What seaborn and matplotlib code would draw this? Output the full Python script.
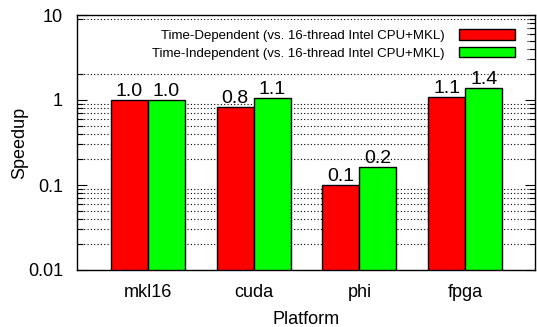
import matplotlib
matplotlib.use("Agg")
import numpy as np
import pandas as pd
import seaborn as sns
import matplotlib.pyplot as plt
from matplotlib.patches import Rectangle
from matplotlib.ticker import LogLocator, NullFormatter, FixedLocator, FixedFormatter

platforms = ["mkl16", "cuda", "phi", "fpga"]
series_names = ["Time-Dependent (vs. 16-thread Intel CPU+MKL)",
                "Time-Independent (vs. 16-thread Intel CPU+MKL)"]
time_dependent = [1.0, 0.82, 0.101, 1.08]
time_independent = [1.0, 1.06, 0.163, 1.39]
ytick_values = [0.01, 0.1, 1, 10]
ytick_labels = ["0.01", "0.1", "1", "10"]
colors = ["#ff0000", "#00ff00"]

df = pd.DataFrame({
    "Platform": platforms * 2,
    "Speedup": time_dependent + time_independent,
    "Series": [series_names[0]] * len(platforms) + [series_names[1]] * len(platforms),
})

sns.set_theme(style="white")
plt.rcParams["font.family"] = ["Liberation Sans", "DejaVu Sans"]
plt.rcParams.update({"text.color": "black", "axes.labelcolor": "black",
                     "xtick.color": "black", "ytick.color": "black"})

fig = plt.figure(figsize=(5.37, 3.27), dpi=100)
ax = fig.add_axes([77/537, 57/327, 458/537, 255/327])

sns.barplot(data=df, x="Platform", y="Speedup", hue="Series", order=platforms,
            hue_order=series_names, palette=colors, width=0.7, gap=0,
            edgecolor="black", linewidth=1.0, saturation=1, ax=ax, legend=True,
            log_scale=(False, True))

ax.set_yscale("log")
ax.set_ylim(0.01, 10)
ax.set_xlim(-0.67, 3.66)

for cont in ax.containers:
    ax.bar_label(cont, fmt="%.1f", padding=0, fontsize=14, color="black")

ax.yaxis.set_major_locator(FixedLocator(ytick_values))
ax.yaxis.set_major_formatter(FixedFormatter(ytick_labels))
ax.yaxis.set_minor_locator(LogLocator(base=10, subs=np.arange(2, 10)))
ax.yaxis.set_minor_formatter(NullFormatter())
ax.tick_params(axis="y", which="major", direction="in", length=7, width=0.8,
               left=True, right=True, labelsize=13, pad=10, color="black",
               labelcolor="black")
ax.tick_params(axis="y", which="minor", direction="in", length=4, width=0.8,
               left=True, right=True, color="black")
ax.tick_params(axis="x", which="both", length=0, labelsize=13, pad=10,
               labelcolor="black")

ax.set_axisbelow(True)
ax.grid(True, which="minor", axis="y", linestyle=(0, (1, 2)), color="black", linewidth=0.8)
ax.grid(False, which="major")

for s in ax.spines.values():
    s.set_visible(True)
    s.set_color("black")
    s.set_linewidth(1.0)

ax.set_xlabel("Platform", fontsize=13, labelpad=7, color="black")
ax.set_ylabel("Speedup", fontsize=13, labelpad=0, color="black")

# white key background (gnuplot style)
ax.add_patch(Rectangle((0, 0.82), 0.98, 0.153, transform=ax.transAxes,
                       facecolor="white", edgecolor="none", zorder=0.9))

handles, labels = ax.get_legend_handles_labels()
leg = ax.legend(handles, labels, loc="upper right", bbox_to_anchor=(0.982, 0.99),
                markerfirst=False, frameon=False, fontsize=9.5, handlelength=4.2,
                handleheight=0.8, handletextpad=1.1, labelspacing=0.4)
for t in leg.get_texts():
    t.set_color("black")

fig.savefig("out.png", dpi=100)
